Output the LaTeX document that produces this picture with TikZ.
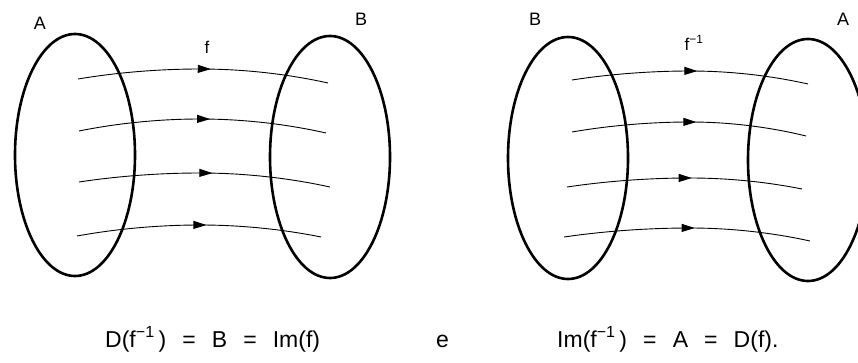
\documentclass[tikz,border=0pt]{standalone}
\usepackage{fontspec}
\setmainfont{Liberation Sans}
\usetikzlibrary{arrows.meta, shapes.geometric, decorations.markings}
\newcommand{\gap}{\hspace{0.7em}}
\tikzset{
  set/.style={draw, ellipse, line width=2.6pt, minimum width=120pt, minimum height=242pt, inner sep=0pt},
  map/.style={line width=0.9pt, postaction={decorate},
    decoration={markings, mark=at position 0.53 with {\arrow{Triangle[length=13pt,width=8pt]}}}},
  setlabel/.style={font=\fontsize{18}{21}\selectfont},
  maplabel/.style={font=\fontsize{17}{20}\selectfont},
  formula/.style={font=\fontsize{23}{26}\selectfont, anchor=base west, inner sep=0pt}
}
\begin{document}
\begin{tikzpicture}[x=1pt, y=-1pt]
    \useasboundingbox (0,0) rectangle (858,363);
    % f : A -> B
    \node[set] (A1) at (75,155) {};
    \node[set] (B1) at (330,157) {};
    \node[setlabel] (labA1) at (40,23) {A};
    \node[setlabel] (labB1) at (361,19) {B};
    \node[maplabel] (f) at (207,47) {f};
    \foreach \xa/\ya/\yp/\xb/\yb [count=\i] in {78/79/69/328/83, 79/131/119/326/133, 79/182/173/330/187, 77/236/225/321/237} {
      \coordinate (s\i) at (\xa,\ya);
      \coordinate (t\i) at (\xb,\yb);
      \draw[map] (s\i) parabola bend (200,\yp) (t\i);
    }
    % f^{-1} : B -> A
    \node[set] (B2) at (568,158) {};
    \node[set] (A2) at (808,160) {};
    \node[setlabel] (labB2) at (535,19) {B};
    \node[setlabel] (labA2) at (843,19) {A};
    \node[maplabel] (finv) at (694,43) {f\textsuperscript{−1}};
    \foreach \xa/\ya/\yp/\xb/\yb [count=\i] in {572/80/71/808/84, 572/132/122/806/136, 567/187/178/802/189, 564/237/228/810/241} {
      \coordinate (u\i) at (\xa,\ya);
      \coordinate (v\i) at (\xb,\yb);
      \draw[map] (u\i) parabola bend (690,\yp) (v\i);
    }
    % formulas
    \node[formula] (dom) at (105,347) {D(f\textsuperscript{−1}\,)\gap=\gap B\gap=\gap Im(f)};
    \node[formula] (and) at (436,347) {e};
    \node[formula] (img) at (557,347) {Im(f\textsuperscript{−1}\,)\gap=\gap A\gap=\gap D(f).};
\end{tikzpicture}
\end{document}
